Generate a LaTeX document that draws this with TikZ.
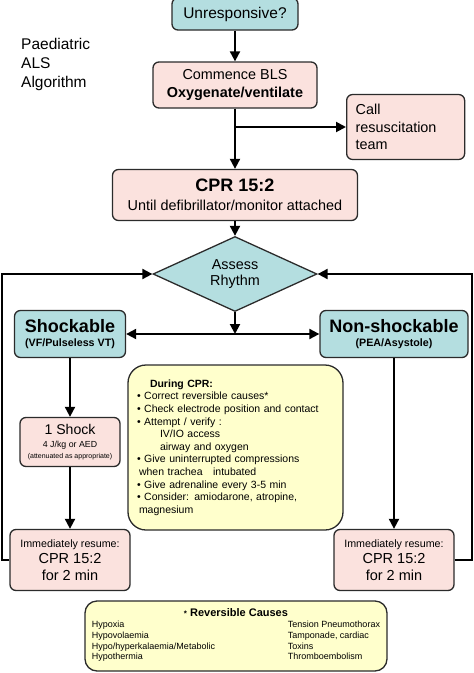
\documentclass[tikz,border=0pt]{standalone}
\usepackage{fontspec}
\setmainfont{Liberation Sans}
\usepackage{tikz}
\usetikzlibrary{shapes.geometric,arrows.meta,positioning}

\definecolor{boxteal}{HTML}{B4DEE0}
\definecolor{boxpink}{HTML}{FBE2DE}
\definecolor{boxyellow}{HTML}{FFFFCC}
\definecolor{boxline}{HTML}{2B2B2B}

\newcommand{\fsz}[2]{\fontsize{#1}{#2}\selectfont}

\tikzset{
    box/.style={draw=boxline,line width=1.3pt,rounded corners=6pt,align=center,inner sep=2pt},
    tealbox/.style={box,fill=boxteal},
    pinkbox/.style={box,fill=boxpink},
    notebox/.style={box,fill=boxyellow},
    flow/.style={line width=2pt,-{Triangle[length=10pt,width=10pt]}},
    both/.style={line width=2pt,{Triangle[length=10pt,width=10pt]}-{Triangle[length=10pt,width=10pt]}},
}

\begin{document}
\begin{tikzpicture}[x=1pt,y=-1pt]
    \useasboundingbox (0,0) rectangle (474,673);

    \node[tealbox,minimum width=126pt,minimum height=32pt,font=\fsz{15.5}{18}] (unresp) at (235,14) {Unresponsive?};
    \node[align=left,anchor=west,inner sep=0pt,font=\fsz{15.5}{19}] (title) at (21,64) {Paediatric\\ALS\\Algorithm};

    \node[pinkbox,minimum width=164pt,minimum height=46pt,font=\fsz{14.4}{18}] (bls) at (235,85) {Commence BLS\\\textbf{Oxygenate/ventilate}};
    \node[box,fill=boxpink,align=left,anchor=west,text width=100pt,minimum height=65pt,inner xsep=9pt,font=\fsz{14.4}{17.5}] (call) at (346,127) {Call\\resuscitation\\team};
    \node[pinkbox,minimum width=245pt,minimum height=51pt,font=\fsz{14.4}{19}] (cpr) at (235,195) {{\fsz{18}{20}\bfseries CPR 15:2}\\Until defibrillator/monitor attached};

    \node[diamond,draw=boxline,line width=1.3pt,fill=boxteal,aspect=2.2,minimum width=164pt,minimum height=75pt,inner sep=0pt,align=center,font=\fsz{14.4}{16}] (rhythm) at (235,274) {Assess\\Rhythm};

    \node[tealbox,minimum width=111pt,minimum height=47pt,font=\fsz{10.7}{14}] (shock) at (70,334) {{\fsz{18}{20}\bfseries Shockable}\\\textbf{(VF/Pulseless VT)}};
    \node[tealbox,minimum width=148pt,minimum height=47pt,font=\fsz{10.7}{14}] (nonshock) at (394,334) {{\fsz{18}{20}\bfseries Non-shockable}\\\textbf{(PEA/Asystole)}};

    \node[pinkbox,minimum width=100pt,minimum height=49pt,font=\fsz{8.8}{11}] (shock1) at (70,442) {{\fsz{14.1}{16}1 Shock}\\[2pt]4 J/kg or AED\\{\fsz{7}{9}(attenuated as appropriate)}};

    \node[pinkbox,minimum width=120pt,minimum height=61pt,font=\fsz{14.5}{16.5}] (resumeL) at (70,560) {{\fsz{10.7}{12}Immediately resume:}\\CPR 15:2\\ for 2 min};
    \node[pinkbox,minimum width=120pt,minimum height=61pt,font=\fsz{14.5}{16.5}] (resumeR) at (394,560) {{\fsz{10.7}{12}Immediately resume:}\\CPR 15:2\\ for 2 min};

    \node[notebox,rounded corners=18pt,minimum width=215pt,minimum height=165pt,text width=197pt,align=left,inner xsep=0pt,font=\fsz{10.5}{12.6}] (during) at (235.5,447.5) {%
        \hspace*{13pt}\textbf{During CPR:}\\
        \textbullet\ Correct reversible causes*\\
        \textbullet\ Check electrode position and contact\\
        \textbullet\ Attempt / verify :\\
        \hspace*{23pt}IV/IO access\\
        \hspace*{23pt}airway and oxygen\\
        \textbullet\ Give uninterrupted compressions\\
        \hspace*{2pt}when trachea\quad intubated\\
        \textbullet\ Give adrenaline every 3-5 min\\
        \textbullet\ Consider: amiodarone, atropine,\\
        \hspace*{2pt}magnesium};

    \node[notebox,rounded corners=12pt,minimum width=302pt,minimum height=70pt,font=\fsz{9}{10.8}] (causes) at (236,636) {%
        \begin{tabular}{@{}p{196pt}@{}l@{}}
            \multicolumn{2}{c}{\fsz{11}{13}\textbf{{\fsz{8}{8}*} Reversible Causes}}\\
            Hypoxia & Tension Pneumothorax\\
            Hypovolaemia & Tamponade, cardiac\\
            Hypo/hyperkalaemia/Metabolic & Toxins\\
            Hypothermia & Thromboembolism
        \end{tabular}};

    \draw[flow] (unresp) -- (bls);
    \draw[flow] (bls) -- (cpr);
    \draw[flow] (bls.south |- call.west) -- (call.west);
    \draw[flow] (cpr) -- (rhythm);

    \coordinate (split) at (rhythm.south |- shock.east);
    \draw[flow] (rhythm.south) -- (split);
    \draw[both] (shock.east) -- (nonshock.west);

    \draw[flow] (shock) -- (shock1);
    \draw[flow] (shock1) -- (resumeL);
    \draw[flow] (nonshock) -- (resumeR);

    \draw[flow] (resumeL.west) -- ++(-7,0) |- (rhythm.west);
    \draw[flow] (resumeR.east) -- ++(17,0) |- (rhythm.east);
\end{tikzpicture}
\end{document}
